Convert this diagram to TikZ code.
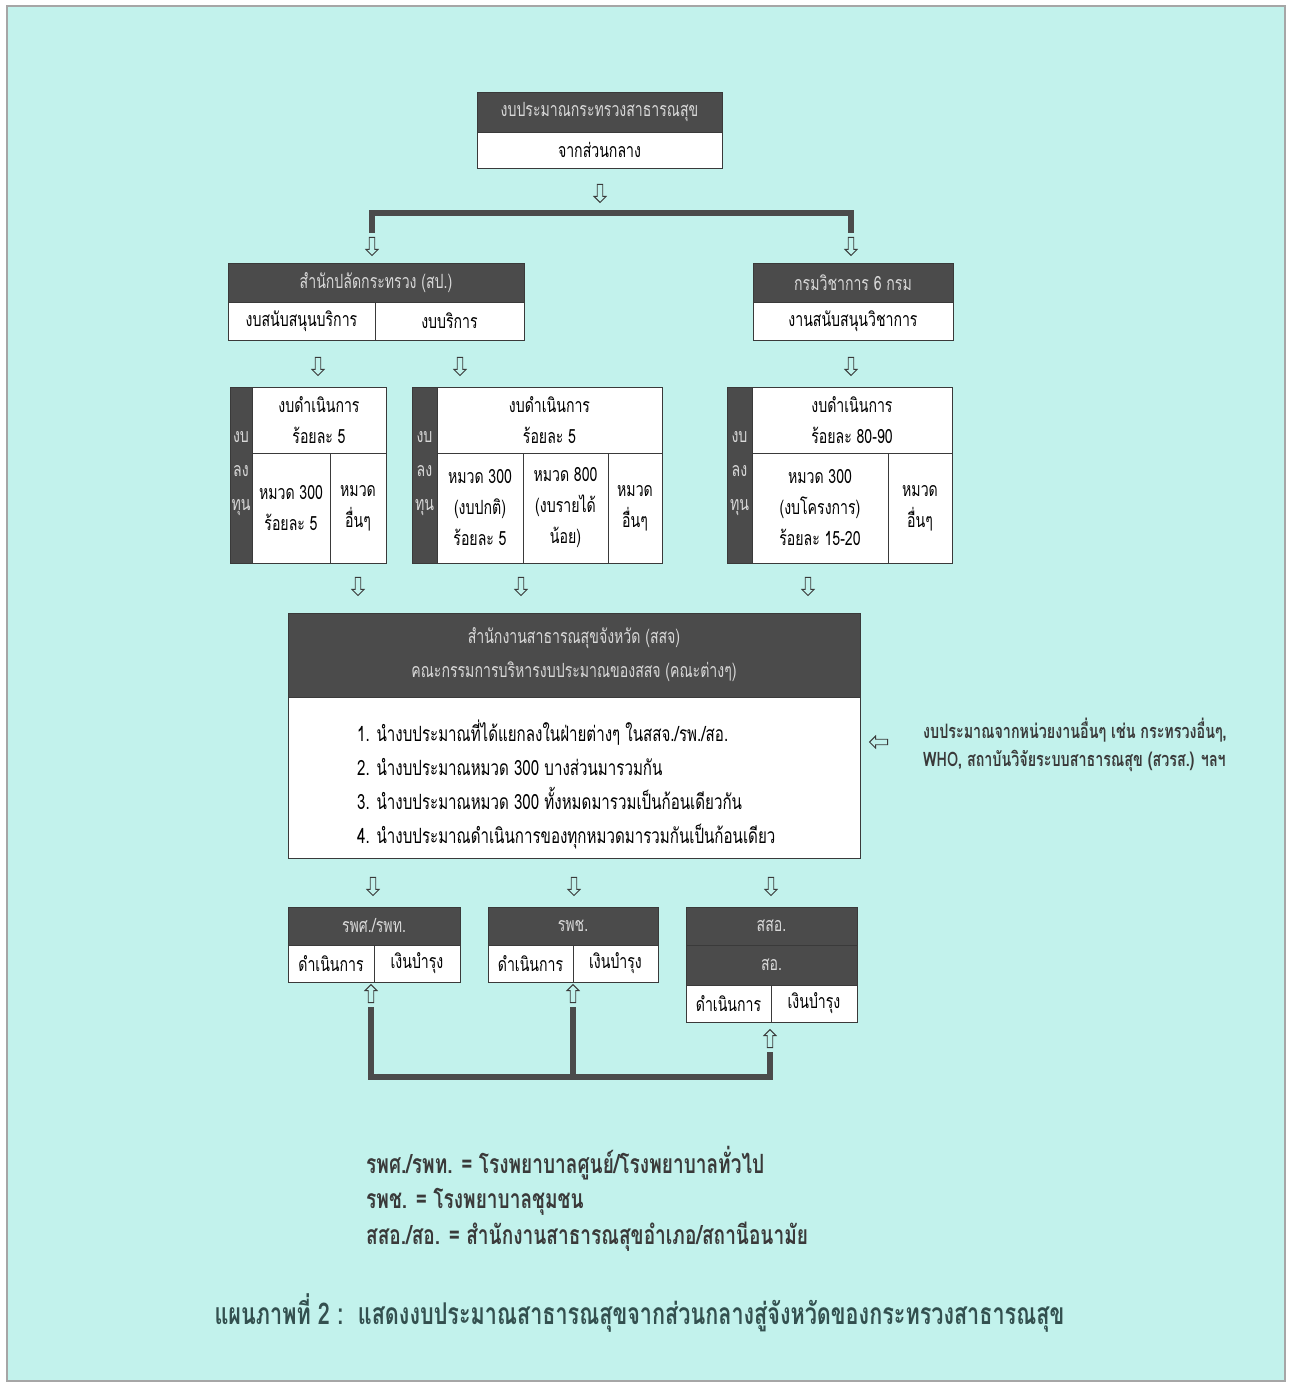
\documentclass[tikz,border=0pt]{standalone}
\usepackage{fontspec}
\newfontfamily\thaicond[Script=Thai,FakeStretch=0.72]{Loma}
\usetikzlibrary{shapes.arrows}

\definecolor{paper}{HTML}{C2F2EC}
\definecolor{headgray}{HTML}{4B4B4B}
\definecolor{headtext}{HTML}{D8D8D8}
\definecolor{rule}{HTML}{3A3A3A}
\definecolor{captext}{HTML}{33504F}

\newcommand\boxfont{\thaicond\fontsize{19.6}{31}\selectfont}
\newcommand\listfont{\thaicond\fontsize{21}{34}\selectfont}
\newcommand\notefont{\thaicond\bfseries\fontsize{19.9}{28}\selectfont}
\newcommand\legfont{\thaicond\bfseries\fontsize{26.5}{30}\selectfont}
\newcommand\capfont{\thaicond\bfseries\fontsize{30}{32}\selectfont}

\begin{document}
\begin{tikzpicture}[x=1pt,y=-1pt,
    head/.style={draw=rule,fill=headgray,text=headtext,line width=1,inner sep=0,align=center,font=\boxfont},
    cell/.style={draw=rule,fill=white,line width=1,inner sep=0,align=center,font=\boxfont},
    collabel/.style={text=headtext,inner sep=0,align=center,font=\thaicond\fontsize{19.6}{34}\selectfont},
    hollow/.style={single arrow,draw=rule,line width=0.9,minimum height=18,minimum width=12,
      single arrow head extend=2.5,inner sep=1.7},
    down/.style={hollow,shape border rotate=270},
    up/.style={hollow,shape border rotate=90},
    bar/.style={draw=headgray,line width=6.5},
    legend/.style={anchor=base west,font=\legfont,text=rule,inner sep=0}]
  % page
  \fill[white] (0,0) rectangle (1296,1382);
  \useasboundingbox (0,0) rectangle (1296,1382);
  \draw[fill=paper,draw=gray!70,line width=2] (7,6) rectangle (1285,1381);

  % central budget
  \node[head,minimum width=245,minimum height=40] (top-h) at (599.5,112) {งบประมาณกระทรวงสาธารณสุข};
  \node[cell,minimum width=245,minimum height=36] (top-b) at (599.5,150) {จากส่วนกลาง};
  \node[down] (a-top) at (600,192) {};

  % split bar
  \coordinate (tl) at (372,213);
  \coordinate (tr) at (851,213);
  \node[down] (a-sp) at (372,245) {};
  \node[down] (a-dms) at (851,245) {};
  \draw[bar] ([yshift=4]a-sp.tail) -- (tl) -- (tr) -- ([yshift=4]a-dms.tail);

  % second level
  \node[head,minimum width=296,minimum height=39] (sp-h) at (376,282.5) {สำนักปลัดกระทรวง (สป.)};
  \node[cell,minimum width=147,minimum height=38] (sp-l) at (301.5,321) {งบสนับสนุนบริการ};
  \node[cell,minimum width=149,minimum height=38] (sp-r) at (449.5,321) {งบบริการ};
  \node[head,minimum width=200,minimum height=39] (dms-h) at (853,282.5) {กรมวิชาการ  6 กรม};
  \node[cell,minimum width=200,minimum height=38] (dms-b) at (853,321) {งานสนับสนุนวิชาการ};
  \node[down] (a-1) at (318,365) {};
  \node[down] (a-2) at (460,365) {};
  \node[down] (a-3) at (851,365) {};

  % budget blocks
  \node[head,minimum width=22,minimum height=176] (k1) at (241,475) {};
  \node[collabel] (k1-l) at (241,474) {งบ\\ลง\\ทุน};
  \node[cell,minimum width=134,minimum height=66] (k1-t) at (319,420) {งบดำเนินการ\\ร้อยละ 5};
  \node[cell,minimum width=78,minimum height=110] (k1-a) at (291,508) {หมวด 300\\ร้อยละ 5};
  \node[cell,minimum width=56,minimum height=110] (k1-b) at (358,508) {หมวด\\อื่นๆ};

  \node[head,minimum width=25,minimum height=176] (k2) at (424.5,475) {};
  \node[collabel] (k2-l) at (424.5,474) {งบ\\ลง\\ทุน};
  \node[cell,minimum width=225,minimum height=66] (k2-t) at (549.5,420) {งบดำเนินการ\\ร้อยละ 5};
  \node[cell,minimum width=86,minimum height=110] (k2-a) at (480,508) {หมวด 300\\(งบปกติ)\\ร้อยละ 5};
  \node[cell,minimum width=85,minimum height=110] (k2-b) at (565.5,508) {หมวด 800\\(งบรายได้\\น้อย)};
  \node[cell,minimum width=54,minimum height=110] (k2-c) at (635,508) {หมวด\\อื่นๆ};

  \node[head,minimum width=25,minimum height=176] (k3) at (739.5,475) {};
  \node[collabel] (k3-l) at (739.5,474) {งบ\\ลง\\ทุน};
  \node[cell,minimum width=200,minimum height=66] (k3-t) at (852,420) {งบดำเนินการ\\ร้อยละ 80-90};
  \node[cell,minimum width=136,minimum height=110] (k3-a) at (820,508) {หมวด 300\\(งบโครงการ)\\ร้อยละ 15-20};
  \node[cell,minimum width=64,minimum height=110] (k3-b) at (920,508) {หมวด\\อื่นๆ};

  \node[down] (a-4) at (358,585) {};
  \node[down] (a-5) at (521,585) {};
  \node[down] (a-6) at (808,585) {};

  % provincial office
  \node[head,minimum width=572,minimum height=84,font=\thaicond\fontsize{19.6}{34}\selectfont] (ssj-h) at (574,655)
    {สำนักงานสาธารณสุขจังหวัด (สสจ)\\คณะกรรมการบริหารงบประมาณของสสจ  (คณะต่างๆ)};
  \node[cell,minimum width=572,minimum height=161] (ssj-b) at (574,777.5) {};
  \node[anchor=west,align=left,font=\listfont,inner sep=0] (ssj-l) at (357,784.5)
    {1. นำงบประมาณที่ได้แยกลงในฝ่ายต่างๆ ในสสจ./รพ./สอ.\\
     2. นำงบประมาณหมวด 300 บางส่วนมารวมกัน\\
     3. นำงบประมาณหมวด 300 ทั้งหมดมารวมเป็นก้อนเดียวกัน\\
     4. นำงบประมาณดำเนินการของทุกหมวดมารวมกันเป็นก้อนเดียว};

  % other sources
  \node[hollow,shape border rotate=180] (a-oth) at (880,742) {};
  \node[anchor=west,align=left,font=\notefont,text=rule,inner sep=0] (oth) at (923,745)
    {งบประมาณจากหน่วยงานอื่นๆ เช่น กระทรวงอื่นๆ,\\WHO, สถาบันวิจัยระบบสาธารณสุข (สวรส.) ฯลฯ};

  \node[down] (a-7) at (373,885) {};
  \node[down] (a-8) at (574,885) {};
  \node[down] (a-9) at (771,885) {};

  % units
  \node[head,minimum width=172,minimum height=38] (u1-h) at (374,926) {รพศ./รพท.};
  \node[cell,minimum width=86,minimum height=37] (u1-l) at (331,963.5) {ดำเนินการ};
  \node[cell,minimum width=86,minimum height=37] (u1-r) at (417,963.5) {เงินบำรุง};

  \node[head,minimum width=170,minimum height=38] (u2-h) at (573,926) {รพช.};
  \node[cell,minimum width=85,minimum height=37] (u2-l) at (530.5,963.5) {ดำเนินการ};
  \node[cell,minimum width=85,minimum height=37] (u2-r) at (615.5,963.5) {เงินบำรุง};

  \node[head,minimum width=171,minimum height=38] (u3-h) at (771.5,926) {สสอ.};
  \node[head,minimum width=171,minimum height=40] (u3-m) at (771.5,965) {สอ.};
  \node[cell,minimum width=85,minimum height=37] (u3-l) at (728.5,1003.5) {ดำเนินการ};
  \node[cell,minimum width=86,minimum height=37] (u3-r) at (814,1003.5) {เงินบำรุง};

  % revenue back up
  \node[up] (b-1) at (371,995) {};
  \node[up] (b-2) at (573,995) {};
  \node[up] (b-3) at (770,1040) {};
  \coordinate (j1) at (371,1077);
  \coordinate (j2) at (573,1077);
  \coordinate (j3) at (770,1077);
  \draw[bar] ([yshift=-4]b-1.tail) -- (j1) -- (j3) -- ([yshift=-4]b-3.tail);
  \draw[bar] ([yshift=-4]b-2.tail) -- (j2);

  % legend
  \node[legend] (lg1) at (366,1173) {รพศ./รพท. = โรงพยาบาลศูนย์/โรงพยาบาลทั่วไป};
  \node[legend] (lg2) at (366,1208) {รพช. = โรงพยาบาลชุมชน};
  \node[legend] (lg3) at (366,1244) {สสอ./สอ. = สำนักงานสาธารณสุขอำเภอ/สถานีอนามัย};

  % caption
  \node[anchor=west,font=\capfont,text=captext] (cap) at (211,1313)
    {แผนภาพที่ 2 :\ \ แสดงงบประมาณสาธารณสุขจากส่วนกลางสู่จังหวัดของกระทรวงสาธารณสุข};
\end{tikzpicture}
\end{document}
